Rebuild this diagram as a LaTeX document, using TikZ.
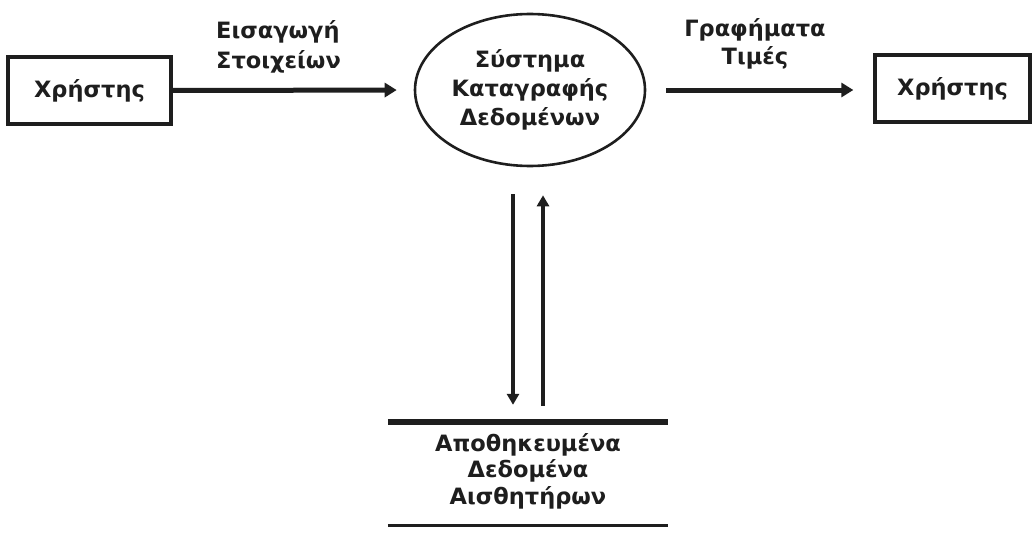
\documentclass[tikz,border=0pt]{standalone}
\usepackage{fontspec}
\setmainfont{DejaVu Sans}
\usetikzlibrary{arrows.meta,shapes.geometric,calc}
\definecolor{ink}{HTML}{1E1E1E}
\begin{document}
\begin{tikzpicture}[x=1pt,y=-1pt,
  every node/.style={font=\fontsize{22.5}{29}\selectfont\bfseries, text=ink},
  entity/.style={draw=ink, line width=3.3pt, rectangle, inner sep=0pt},
  process/.style={draw=ink, line width=2.6pt, ellipse, inner sep=0pt, align=center},
  flowh/.style={draw=ink, line width=5pt, -{Triangle[length=12pt,width=14pt]}},
  flowv/.style={draw=ink, line width=3.5pt, -{Triangle[length=11pt,width=12pt]}},
  lbl/.style={inner sep=0pt}]
\useasboundingbox (0,0) rectangle (1033,535);

% external entities
\node[entity, minimum width=163pt, minimum height=67pt] (u1) at (89.5,90.5) {Χρήστης};
\node[entity, minimum width=155pt, minimum height=67pt] (u2) at (952.5,88.5) {Χρήστης};

% process
\node[process, minimum width=230pt, minimum height=152pt] (sys) at (530,90)
  {Σύστημα\\Καταγραφής\\Δεδομένων};

% data store
\node[minimum width=280pt, minimum height=103pt, inner sep=0pt] (store) at (528,473.5) {};
\node[lbl, align=center, font=\fontsize{22.5}{26.5}\selectfont\bfseries] (storetxt) at (528,471)
  {Αποθηκευμένα\\Δεδομένα\\Αισθητήρων};
\draw[ink, line width=6pt] (store.north west) -- (store.north east);
\draw[ink, line width=3.3pt] (store.south west) -- (store.south east);

% flows
\draw[flowh, shorten >=17pt] (u1.east) -- (sys.west);
\draw[flowh, shorten <=20pt, shorten >=20pt] (sys.east) -- (sys.east -| u2.west);
\coordinate (dwa) at ($(sys.south)+(-17,27)$);
\coordinate (dwb) at ($(store.north)+(-15,-17)$);
\coordinate (upa) at ($(store.north)+(15,-16)$);
\coordinate (upb) at ($(sys.south)+(13,28)$);
\draw[flowv] (dwa) -- (dwb);
\draw[flowv] (upa) -- (upb);

% flow labels
\node[lbl, anchor=west, align=left, font=\fontsize{22.5}{30}\selectfont\bfseries] (l1) at (216,47)
  {Εισαγωγή\\Στοιχείων};
\node[lbl, align=center, font=\fontsize{22.5}{28}\selectfont\bfseries] (l2) at (755,44)
  {Γραφήματα\\Τιμές};
\end{tikzpicture}
\end{document}
